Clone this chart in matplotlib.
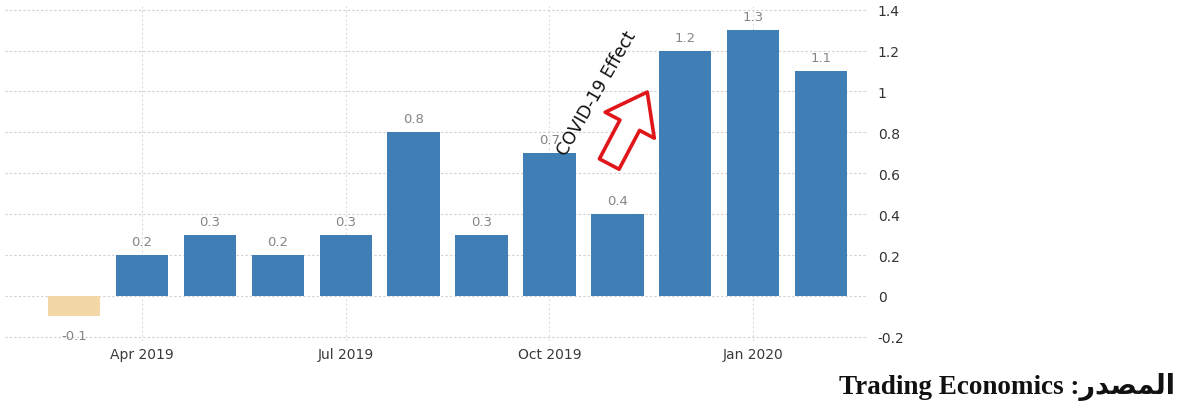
import matplotlib
matplotlib.use("Agg")
import matplotlib.pyplot as plt
import numpy as np

# ---- data ----
months = ["Mar 2019", "Apr 2019", "May 2019", "Jun 2019", "Jul 2019", "Aug 2019",
          "Sep 2019", "Oct 2019", "Nov 2019", "Dec 2019", "Jan 2020", "Feb 2020"]
values = [-0.1, 0.2, 0.3, 0.2, 0.3, 0.8, 0.3, 0.7, 0.4, 1.2, 1.3, 1.1]
xtick_labels = ["Apr 2019", "Jul 2019", "Oct 2019", "Jan 2020"]
ytick_values = [-0.2, 0, 0.2, 0.4, 0.6, 0.8, 1, 1.2, 1.4]
ytick_labels = ["-0.2", "0", "0.2", "0.4", "0.6", "0.8", "1", "1.2", "1.4"]
annotation_text = "COVID-19 Effect"
source_ar = "المصدر"
source_en = "Trading Economics"

# minimal Arabic shaping (presentation forms + visual order) for the source label
FORMS = {  # isolated, final, initial, medial, joins_next
    "ا": ("\uFE8D", "\uFE8E", "\uFE8D", "\uFE8E", False),
    "ل": ("\uFEDD", "\uFEDE", "\uFEDF", "\uFEE0", True),
    "م": ("\uFEE1", "\uFEE2", "\uFEE3", "\uFEE4", True),
    "ص": ("\uFEB9", "\uFEBA", "\uFEBB", "\uFEBC", True),
    "د": ("\uFEA9", "\uFEAA", "\uFEA9", "\uFEAA", False),
    "ر": ("\uFEAD", "\uFEAE", "\uFEAD", "\uFEAE", False),
}


def shape_arabic(word):
    out = []
    n = len(word)
    for i, ch in enumerate(word):
        f = FORMS.get(ch)
        if f is None:
            out.append(ch)
            continue
        prev_joins = i > 0 and word[i - 1] in FORMS and FORMS[word[i - 1]][4]
        next_exists = i < n - 1 and word[i + 1] in FORMS
        joins_next = f[4] and next_exists
        if prev_joins and joins_next:
            out.append(f[3])
        elif prev_joins:
            out.append(f[1])
        elif joins_next:
            out.append(f[2])
        else:
            out.append(f[0])
    return "".join(reversed(out))


W, H = 1182, 406
fig = plt.figure(figsize=(W / 100, H / 100), dpi=100)
fig.patch.set_facecolor("white")
ax = fig.add_axes([5 / W, 1 - 342 / H, (868 - 5) / W, (342 - 6.5) / H])
ax.set_facecolor("white")

x = np.arange(len(months))
colors = ["#f3d7a6" if v < 0 else "#3f7fb6" for v in values]
bars = ax.bar(x, values, width=0.77, color=colors, zorder=2)

for xi, v in zip(x, values):
    if v < 0:
        ax.annotate(f"{v:.1f}", (xi, v), xytext=(0, -9), textcoords="offset points",
                    ha="center", va="top", fontsize=9.5, color="#858585")
    else:
        ax.annotate(f"{v:.1f}", (xi, v), xytext=(0, 5), textcoords="offset points",
                    ha="center", va="bottom", fontsize=9.5, color="#858585")

ax.set_xlim(-1.016, 11.69)
ax.set_ylim(-0.22, 1.42)

xt = [months.index(m) for m in xtick_labels]
ax.set_xticks(xt)
ax.set_xticklabels(xtick_labels, fontsize=10, color="#3a3a3a")
ax.set_yticks(ytick_values)
ax.set_yticklabels(ytick_labels, fontsize=10, color="#333333")
ax.yaxis.tick_right()
ax.tick_params(axis="y", length=0, pad=7)
ax.tick_params(axis="x", length=0, pad=4)
for s in ax.spines.values():
    s.set_visible(False)
ax.grid(True, axis="y", color="#cfcfcf", linestyle=(0, (2, 2)), linewidth=0.8, zorder=0)
ax.grid(True, axis="x", color="#dddddd", linestyle=(0, (2, 2)), linewidth=0.8, zorder=0)
ax.set_axisbelow(True)

# COVID annotation
ax.text(7.70, 0.992, annotation_text, rotation=60, ha="center", va="center",
        fontsize=12.5, color="#111111", rotation_mode="anchor", zorder=5)
ax.annotate("", xy=(8.44, 0.997), xytext=(7.88, 0.645),
            arrowprops=dict(arrowstyle="simple,head_length=1.35,head_width=2.0,tail_width=0.8",
                            mutation_scale=20,
                            fc="white", ec="#e0161b", lw=2.6, shrinkA=0, shrinkB=0),
            zorder=5)

# source text
fig.text(1175 / W, 1 - 387 / H, source_en + " :" + shape_arabic(source_ar),
         ha="right", va="center", fontsize=19.5, fontweight="bold",
         family=["Liberation Serif", "DejaVu Sans"], color="#111111")

fig.savefig("out.png", dpi=100, facecolor="white")
